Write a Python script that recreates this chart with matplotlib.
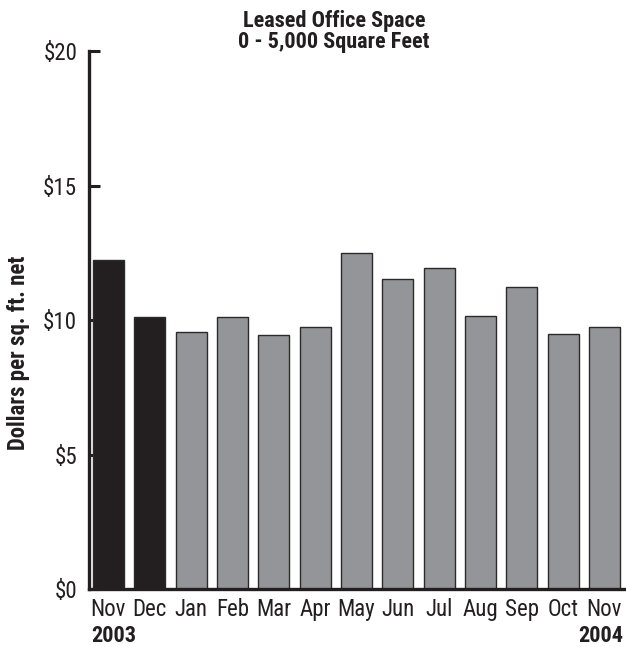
import matplotlib
matplotlib.use("Agg")
import matplotlib.pyplot as plt

months = ["Nov", "Dec", "Jan", "Feb", "Mar", "Apr", "May", "Jun", "Jul", "Aug", "Sep", "Oct", "Nov"]
values = [12.24, 10.13, 9.56, 10.11, 9.46, 9.73, 12.49, 11.54, 11.93, 10.16, 11.25, 9.48, 9.73]
years = ["2003", "2004"]
title_lines = ["Leased Office Space", "0 - 5,000 Square Feet"]
ylabel = "Dollars per sq. ft. net"
yticks = [0, 5, 10, 15, 20]
ytick_labels = ["$0", "$5", "$10", "$15", "$20"]

plt.rcParams["font.family"] = ["Roboto Condensed", "DejaVu Sans"]
INK = "#231f20"

fig = plt.figure(figsize=(6.26, 6.47), dpi=100)
ax = fig.add_axes([89/626, 1-589.3/647, (625-89)/626, (589.3-51)/647])

x = list(range(len(months)))
colors = [INK, INK] + ["#939598"] * (len(months) - 2)
ax.bar(x, values, width=0.75, color=colors, edgecolor="#2a2a2a", linewidth=1.0, zorder=2)

ax.set_xlim(-0.47, 12.5)
ax.set_ylim(0, 20)
ax.set_yticks(yticks)
ax.set_yticklabels(ytick_labels, fontsize=16.5, color=INK)
ax.set_xticks(x)
ax.set_xticklabels(months, fontsize=16.5, color=INK)
ax.tick_params(axis="y", direction="in", length=8, width=2.2, pad=8.5, color=INK)
ax.tick_params(axis="x", length=0, pad=6)
for s in ["top", "right"]:
    ax.spines[s].set_visible(False)
for s in ["left", "bottom"]:
    ax.spines[s].set_linewidth(2.4)
    ax.spines[s].set_color(INK)

fig.text(334/626, 1-27/647, title_lines[0], ha="center", va="baseline",
         fontsize=16, fontweight="bold", color=INK)
fig.text(334/626, 1-48/647, title_lines[1], ha="center", va="baseline",
         fontsize=16, fontweight="bold", color=INK)
fig.text(19/626, 1-353/647, ylabel, rotation=90, ha="center", va="center",
         fontsize=16.5, fontweight="bold", color=INK)
fig.text(91/626, 1-642/647, years[0], ha="left", va="baseline", fontsize=16, fontweight="bold", color=INK)
fig.text(623/626, 1-642/647, years[1], ha="right", va="baseline", fontsize=16, fontweight="bold", color=INK)

fig.savefig("out.png", dpi=100)
